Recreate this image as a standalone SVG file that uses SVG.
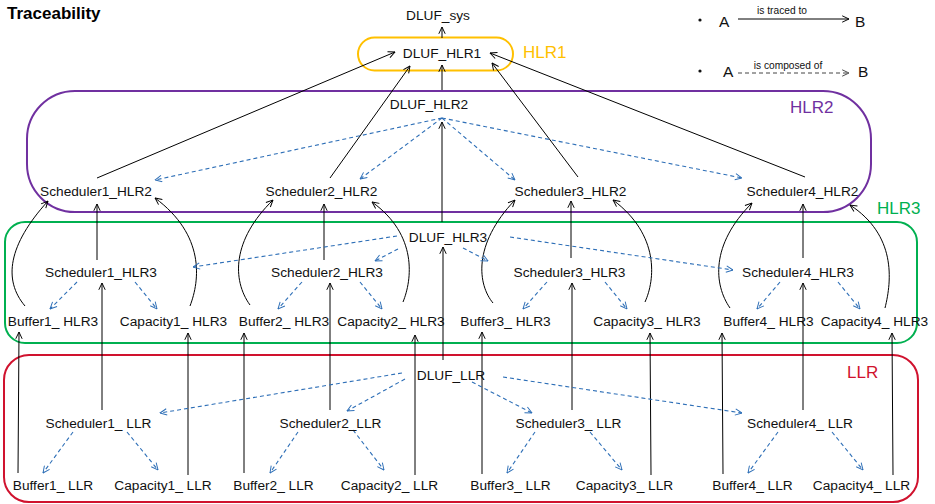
<svg xmlns="http://www.w3.org/2000/svg" width="935" height="504" viewBox="0 0 935 504">
  <style>
    .lbl { font-family: "Liberation Sans", Arial, sans-serif; font-size: 13.7px; fill: #111; text-anchor: middle; }
    .title { font-family: "Liberation Sans", Arial, sans-serif; font-size: 17px; font-weight: bold; fill: #000; }
    .tier { font-family: "Liberation Sans", Arial, sans-serif; font-size: 17px; }
    .leg { font-family: "Liberation Sans", Arial, sans-serif; font-size: 15.5px; fill: #111; }
    .legs { font-family: "Liberation Sans", Arial, sans-serif; font-size: 10.2px; fill: #111; text-anchor: middle; }
    .trace { fill: none; stroke: #000; stroke-width: 1; marker-end: url(#ah); }
    .comp { fill: none; stroke: #2E6FB7; stroke-width: 1.1; stroke-dasharray: 4 3; marker-end: url(#ahb); }
    .box { fill: none; stroke-width: 2; }
  </style>
  <defs>
    <marker id="ah" viewBox="0 0 10 10" refX="9.5" refY="5" markerWidth="8" markerHeight="8" markerUnits="userSpaceOnUse" orient="auto">
      <path d="M1,1 L9.5,5 L1,9" fill="none" stroke="#000" stroke-width="1.2"/>
    </marker>
    <marker id="ahb" viewBox="0 0 10 10" refX="9.5" refY="5" markerWidth="8" markerHeight="8" markerUnits="userSpaceOnUse" orient="auto">
      <path d="M1,1 L9.5,5 L1,9" fill="none" stroke="#2E6FB7" stroke-width="1.2"/>
    </marker>
    <marker id="ahg" viewBox="0 0 10 10" refX="9.5" refY="5" markerWidth="8" markerHeight="8" markerUnits="userSpaceOnUse" orient="auto">
      <path d="M1,1 L9.5,5 L1,9" fill="none" stroke="#444" stroke-width="1.2"/>
    </marker>
  </defs>

  <rect width="935" height="504" fill="#fff"/>
  <text class="title" x="7" y="18.5">Traceability</text>

  <!-- tier containers -->
  <g id="tier-hlr1">
    <rect class="box" x="358" y="37.5" width="155" height="33" rx="16.5" stroke="#FFC000" stroke-width="1.6"/>
    <text class="tier" x="523" y="58" fill="#FFC000">HLR1</text>
  </g>
  <g id="tier-hlr2">
    <rect class="box" x="27" y="91" width="844" height="121" rx="48" stroke="#7030A0"/>
    <text class="tier" x="790" y="113" fill="#7030A0">HLR2</text>
  </g>
  <g id="tier-hlr3">
    <rect class="box" x="5" y="222" width="912" height="121" rx="20" stroke="#00B050"/>
    <text class="tier" x="877" y="214" fill="#00B050">HLR3</text>
  </g>
  <g id="tier-llr">
    <rect class="box" x="4" y="355" width="914" height="147" rx="25" stroke="#D0122E"/>
    <text class="tier" x="847" y="378" fill="#D0122E">LLR</text>
  </g>

  <!-- legend -->
  <g id="legend">
    <circle cx="700" cy="20" r="1.6" fill="#111"/>
    <text class="leg" x="719" y="27">A</text>
    <line x1="738" y1="19" x2="849" y2="19" stroke="#000" stroke-width="1" marker-end="url(#ah)"/>
    <text class="legs" x="782" y="14">is traced to</text>
    <text class="leg" x="855" y="27">B</text>
    <circle cx="700" cy="71" r="1.6" fill="#111"/>
    <text class="leg" x="723" y="77">A</text>
    <line x1="738" y1="73" x2="849" y2="73" stroke="#444" stroke-width="1" stroke-dasharray="4 3" marker-end="url(#ahg)"/>
    <text class="legs" x="788" y="69">is composed of</text>
    <text class="leg" x="858" y="77">B</text>
  </g>

  <!-- connectors -->
  <g id="connectors">
    <!-- HLR1 to system -->
    <line class="trace" x1="442" y1="38" x2="442" y2="27"/>
    <!-- HLR2 to HLR1 -->
    <line class="trace" x1="442" y1="90" x2="442" y2="65"/>
    <line class="trace" x1="97" y1="178" x2="395" y2="52"/>
    <line class="trace" x1="330" y1="178" x2="410" y2="66"/>
    <line class="trace" x1="578" y1="177" x2="492" y2="63"/>
    <line class="trace" x1="805" y1="177" x2="490" y2="53"/>
    <!-- DLUF_HLR2 composition -->
    <line class="comp" x1="442" y1="118" x2="155" y2="180"/>
    <line class="comp" x1="442" y1="118" x2="360" y2="179"/>
    <line class="comp" x1="442" y1="118" x2="515" y2="180"/>
    <line class="comp" x1="442" y1="118" x2="742" y2="178"/>

    <!-- HLR3 to HLR2 -->
    <line class="trace" x1="442" y1="222" x2="442" y2="122"/>
    <line class="trace" x1="97" y1="260" x2="97" y2="204"/>
    <line class="trace" x1="324" y1="260" x2="324" y2="204"/>
    <line class="trace" x1="571" y1="258" x2="571" y2="201"/>
    <line class="trace" x1="803" y1="258" x2="803" y2="204"/>
    <path class="trace" d="M25,306 C3,280 8,245 48,201"/>
    <path class="trace" d="M190,306 C200,280 205,235 155,198"/>
    <path class="trace" d="M250,305 C232,280 232,240 273,200"/>
    <path class="trace" d="M403,302 C412,280 418,235 372,202"/>
    <path class="trace" d="M493,303 C478,285 472,245 515,200"/>
    <path class="trace" d="M645,302 C655,280 660,235 613,200"/>
    <path class="trace" d="M730,308 C714,285 710,245 752,203"/>
    <path class="trace" d="M885,308 C892,280 896,235 850,205"/>
    <!-- DLUF_HLR3 composition -->
    <line class="comp" x1="397" y1="236" x2="193" y2="267"/>
    <line class="comp" x1="398" y1="249" x2="375" y2="261"/>
    <line class="comp" x1="463" y1="248" x2="488" y2="261"/>
    <line class="comp" x1="510" y1="237" x2="733" y2="270"/>
    <!-- scheduler HLR3 composition -->
    <line class="comp" x1="77" y1="282" x2="50" y2="309"/>
    <line class="comp" x1="135" y1="282" x2="157" y2="309"/>
    <line class="comp" x1="302" y1="282" x2="278" y2="309"/>
    <line class="comp" x1="360" y1="282" x2="382" y2="309"/>
    <line class="comp" x1="547" y1="282" x2="523" y2="309"/>
    <line class="comp" x1="605" y1="282" x2="627" y2="309"/>
    <line class="comp" x1="780" y1="282" x2="757" y2="309"/>
    <line class="comp" x1="838" y1="282" x2="860" y2="309"/>

    <!-- LLR to HLR3 -->
    <line class="trace" x1="443" y1="360" x2="443" y2="247"/>
    <line class="trace" x1="102" y1="410" x2="102" y2="283"/>
    <line class="trace" x1="330" y1="410" x2="330" y2="283"/>
    <line class="trace" x1="572" y1="410" x2="572" y2="283"/>
    <line class="trace" x1="803" y1="410" x2="803" y2="283"/>
    <line class="trace" x1="18" y1="473" x2="19" y2="332"/>
    <line class="trace" x1="188" y1="475" x2="188" y2="333"/>
    <line class="trace" x1="244" y1="473" x2="244" y2="333"/>
    <line class="trace" x1="415" y1="475" x2="415" y2="335"/>
    <line class="trace" x1="482" y1="474" x2="482" y2="332"/>
    <line class="trace" x1="651" y1="475" x2="650" y2="333"/>
    <line class="trace" x1="723" y1="474" x2="722" y2="333"/>
    <line class="trace" x1="893" y1="475" x2="892" y2="333"/>
    <!-- DLUF_LLR composition -->
    <line class="comp" x1="402" y1="373" x2="160" y2="413"/>
    <line class="comp" x1="405" y1="379" x2="347" y2="411"/>
    <line class="comp" x1="472" y1="382" x2="532" y2="413"/>
    <line class="comp" x1="503" y1="377" x2="742" y2="413"/>
    <!-- scheduler LLR composition -->
    <line class="comp" x1="73" y1="432" x2="43" y2="473"/>
    <line class="comp" x1="127" y1="432" x2="158" y2="470"/>
    <line class="comp" x1="298" y1="432" x2="270" y2="473"/>
    <line class="comp" x1="353" y1="430" x2="384" y2="470"/>
    <line class="comp" x1="535" y1="432" x2="507" y2="473"/>
    <line class="comp" x1="590" y1="432" x2="622" y2="470"/>
    <line class="comp" x1="778" y1="432" x2="748" y2="473"/>
    <line class="comp" x1="832" y1="432" x2="863" y2="470"/>
  </g>

  <!-- nodes -->
  <g id="dluf-sys"><text class="lbl" x="438" y="19.5">DLUF_sys</text></g>
  <g id="dluf-hlr1"><text class="lbl" x="442" y="58">DLUF_HLR1</text></g>
  <g id="dluf-hlr2"><text class="lbl" x="429" y="109">DLUF_HLR2</text></g>
  <g id="scheduler1-hlr2"><text class="lbl" x="96" y="196">Scheduler1_HLR2</text></g>
  <g id="scheduler2-hlr2"><text class="lbl" x="321.5" y="196">Scheduler2_HLR2</text></g>
  <g id="scheduler3-hlr2"><text class="lbl" x="570.5" y="196">Scheduler3_HLR2</text></g>
  <g id="scheduler4-hlr2"><text class="lbl" x="802.5" y="196">Scheduler4_HLR2</text></g>

  <g id="dluf-hlr3"><text class="lbl" x="448" y="242">DLUF_HLR3</text></g>
  <g id="scheduler1-hlr3"><text class="lbl" x="101" y="277">Scheduler1_HLR3</text></g>
  <g id="scheduler2-hlr3"><text class="lbl" x="327" y="277">Scheduler2_HLR3</text></g>
  <g id="scheduler3-hlr3"><text class="lbl" x="569.5" y="277">Scheduler3_HLR3</text></g>
  <g id="scheduler4-hlr3"><text class="lbl" x="798" y="277">Scheduler4_HLR3</text></g>
  <g id="buffer1-hlr3"><text class="lbl" x="53" y="326">Buffer1_ HLR3</text></g>
  <g id="capacity1-hlr3"><text class="lbl" x="173.5" y="326">Capacity1_ HLR3</text></g>
  <g id="buffer2-hlr3"><text class="lbl" x="284" y="326">Buffer2_ HLR3</text></g>
  <g id="capacity2-hlr3"><text class="lbl" x="391" y="326">Capacity2_ HLR3</text></g>
  <g id="buffer3-hlr3"><text class="lbl" x="505.5" y="326">Buffer3_ HLR3</text></g>
  <g id="capacity3-hlr3"><text class="lbl" x="647" y="326">Capacity3_ HLR3</text></g>
  <g id="buffer4-hlr3"><text class="lbl" x="768.5" y="326">Buffer4_ HLR3</text></g>
  <g id="capacity4-hlr3"><text class="lbl" x="874.5" y="326">Capacity4_ HLR3</text></g>

  <g id="dluf-llr"><text class="lbl" x="451" y="380">DLUF_LLR</text></g>
  <g id="scheduler1-llr"><text class="lbl" x="98.5" y="428">Scheduler1_ LLR</text></g>
  <g id="scheduler2-llr"><text class="lbl" x="330.5" y="428">Scheduler2_LLR</text></g>
  <g id="scheduler3-llr"><text class="lbl" x="568.5" y="428">Scheduler3_ LLR</text></g>
  <g id="scheduler4-llr"><text class="lbl" x="800" y="428">Scheduler4_ LLR</text></g>
  <g id="buffer1-llr"><text class="lbl" x="53" y="490">Buffer1_ LLR</text></g>
  <g id="capacity1-llr"><text class="lbl" x="163" y="490">Capacity1_ LLR</text></g>
  <g id="buffer2-llr"><text class="lbl" x="273.5" y="490">Buffer2_ LLR</text></g>
  <g id="capacity2-llr"><text class="lbl" x="389.5" y="490">Capacity2_ LLR</text></g>
  <g id="buffer3-llr"><text class="lbl" x="510.5" y="490">Buffer3_ LLR</text></g>
  <g id="capacity3-llr"><text class="lbl" x="624.5" y="490">Capacity3_ LLR</text></g>
  <g id="buffer4-llr"><text class="lbl" x="752.5" y="490">Buffer4_ LLR</text></g>
  <g id="capacity4-llr"><text class="lbl" x="861.5" y="490">Capacity4_ LLR</text></g>
</svg>
